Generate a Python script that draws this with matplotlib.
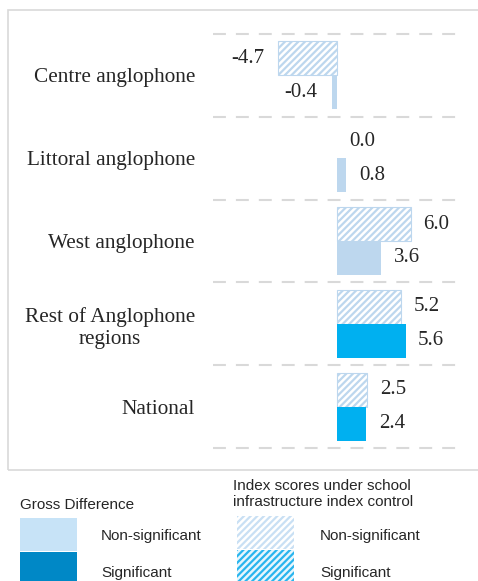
import matplotlib.pyplot as plt
from matplotlib.patches import Rectangle
import numpy as np

# data
categories = ['Centre anglophone', 'Littoral anglophone', 'West anglophone',
              'Rest of Anglophone\nregions', 'National']
index_scores = np.array([-4.7, 0.0, 6.0, 5.2, 2.5])      # hatched bars
gross_diff = np.array([-0.4, 0.8, 3.6, 5.6, 2.4])        # solid bars
gross_sig = [False, False, False, True, True]

light_blue = '#BDD7EE'
bright_blue = '#00B0F0'
text_col = '#262626'
grid_col = '#D9D9D9'

plt.rcParams['hatch.linewidth'] = 1.6
plt.rcParams['font.family'] = 'Liberation Serif'

W, H = 478, 581
fig = plt.figure(figsize=(W / 100, H / 100), dpi=100)


def fx(x):
    return x / W


def fy(y):
    return 1 - y / H


ax = fig.add_axes([fx(213), fy(448), fx(460) - fx(213), fy(34) - fy(448)])

y = np.arange(len(categories))
h = 0.41

ax.barh(y - h / 2, index_scores, height=h, color='white', edgecolor=light_blue,
        hatch='/////', linewidth=[0 if v == 0 else 0.8 for v in index_scores])
ax.barh(y + h / 2, gross_diff, height=h,
        color=[bright_blue if s else light_blue for s in gross_sig], linewidth=0)

for yy, v in zip(y - h / 2, index_scores):
    off = 9 if v >= 0 else -10
    ax.annotate(f'{v:.1f}', (v, yy), xytext=(off, 0), textcoords='offset points',
                ha='left' if v >= 0 else 'right', va='center', fontsize=15, color=text_col)
for yy, v in zip(y + h / 2, gross_diff):
    off = 9 if v >= 0 else -10
    ax.annotate(f'{v:.1f}', (v, yy), xytext=(off, 0), textcoords='offset points',
                ha='left' if v >= 0 else 'right', va='center', fontsize=15, color=text_col)

# dashed separators
for b in np.arange(-0.5, len(categories), 1.0):
    ax.axhline(b, color=grid_col, linewidth=1.5, dashes=(6.2, 4.8), clip_on=False)

ax.set_xlim(-10, 10)
ax.set_ylim(len(categories) - 0.5, -0.5)
ax.set_yticks(y)
ax.set_yticklabels(categories, fontsize=15.3, color=text_col)
for lab in ax.get_yticklabels():
    lab.set_multialignment('center')
ax.tick_params(axis='y', length=0, pad=13)
ax.set_xticks([])
for s in ax.spines.values():
    s.set_visible(False)

# outer frame
fig.add_artist(Rectangle((fx(8), fy(470)), 1.2, fy(10) - fy(470), transform=fig.transFigure,
                         fill=False, edgecolor=grid_col, linewidth=1.2))

# legend drawn by hand
sans = 'Liberation Sans'
fs = 11
fig.text(fx(20), fy(505), 'Gross Difference', family=sans, fontsize=fs,
         color=text_col, va='center')
fig.text(fx(233), fy(494), 'Index scores under school\ninfrastructure index control',
         family=sans, fontsize=fs, color=text_col, va='center', linespacing=1.2)

fig.add_artist(Rectangle((fx(20), fy(551)), fx(57), fy(518) - fy(551),
                         transform=fig.transFigure, color='#C7E3F7', linewidth=0))
fig.add_artist(Rectangle((fx(20), fy(590)), fx(57), fy(552) - fy(590),
                         transform=fig.transFigure, color='#0088C6', linewidth=0))
fig.add_artist(Rectangle((fx(237), fy(549)), fx(57), fy(516) - fy(549),
                         transform=fig.transFigure, facecolor='white',
                         edgecolor='#C9E0F4', hatch='/////', linewidth=0))
fig.add_artist(Rectangle((fx(237), fy(590)), fx(57), fy(550) - fy(590),
                         transform=fig.transFigure, facecolor='#E6F6FD',
                         edgecolor='#29B5EE', hatch='/////', linewidth=0))

for x in (101, 320):
    fig.text(fx(x), fy(536), 'Non-significant', family=sans, fontsize=fs,
             color=text_col, va='center')
    fig.text(fx(x), fy(573), 'Significant', family=sans, fontsize=fs,
             color=text_col, va='center')

fig.savefig('out.png', dpi=100)
